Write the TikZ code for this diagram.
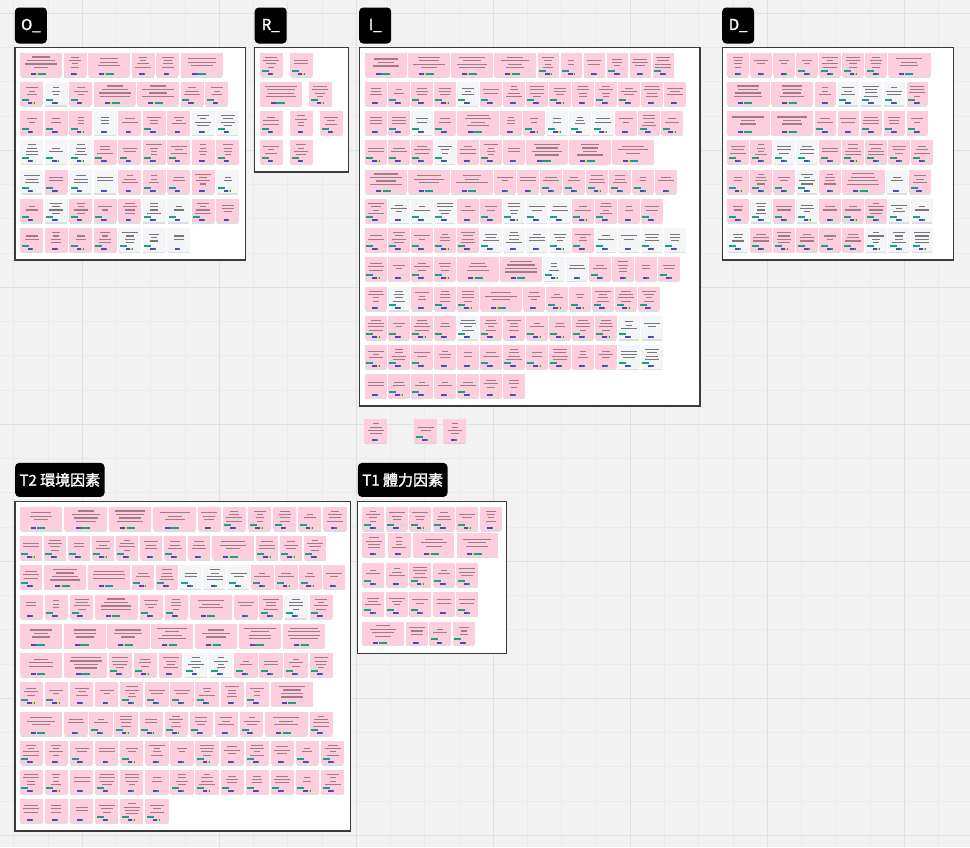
\documentclass[tikz,border=0pt]{standalone}
\usepackage{fontspec}
\newfontfamily\labelfont{Noto Sans CJK TC}[FakeBold=1.6]

\definecolor{boardbg}{RGB}{242,242,242}
\definecolor{gridminor}{RGB}{234,234,234}
\definecolor{gridmajor}{RGB}{224,224,224}
\definecolor{pinknote}{RGB}{254,206,222}
\definecolor{graynote}{RGB}{244,245,247}
\definecolor{pinkline}{RGB}{160,124,139}
\definecolor{grayline}{RGB}{118,118,124}
\definecolor{tagteal}{RGB}{20,163,135}
\definecolor{tagblue}{RGB}{80,72,182}
\definecolor{tagyellow}{RGB}{206,226,82}
\definecolor{framec}{RGB}{58,58,58}

% sticky note parameters: square width, wide width, gap, height
\newcommand\ntFrame[4]{\gdef\ntW{#1}\gdef\ntWW{#2}\gdef\ntGap{#3}\gdef\ntH{#4}}

% square sticky note with blurred text lines and tags
\newcommand\ntSquare[3]{%
  \begin{scope}[shift={(#1,#2)}]
    \fill[black,opacity=0.13] (0.8,\ntH-2) rectangle (\ntW-0.8,\ntH+1.4);
    \fill[#3note] (0,0) rectangle (\ntW,\ntH);
    \pgfmathrandominteger{\ntLines}{2}{4}%
    \foreach \k in {1,...,\ntLines}{%
      \pgfmathsetmacro{\ntHalf}{random(3,8)}%
      \pgfmathsetmacro{\ntLy}{9.5+3.3*(\k-(\ntLines+1)/2)}%
      \draw[#3line,line width=1.15pt] ({\ntW/2-\ntHalf},\ntLy) -- ({\ntW/2+\ntHalf},\ntLy);
    }%
    \pgfmathrandominteger{\ntTag}{0}{3}%
    \ifnum\ntTag>0 \fill[tagteal] (1.6,\ntH-6.6) rectangle (8.6,\ntH-4.6);\fi
    \fill[tagblue] (7.5,\ntH-3.5) rectangle (12,\ntH-1.5);
    \ifnum\ntTag=2
      \fill[tagyellow] (12,\ntH-3.5) rectangle (13.8,\ntH-1.5);
      \fill[tagteal] (13.8,\ntH-3.5) rectangle (14.8,\ntH-1.5);
    \else
      \fill[tagteal] (12,\ntH-3.5) rectangle (13.4,\ntH-1.5);
    \fi
  \end{scope}}

% wide sticky note
\newcommand\ntWide[3]{%
  \begin{scope}[shift={(#1,#2)}]
    \fill[black,opacity=0.13] (0.8,\ntH-2) rectangle (\ntWW-0.8,\ntH+1.4);
    \fill[#3note] (0,0) rectangle (\ntWW,\ntH);
    \pgfmathrandominteger{\ntLines}{3}{4}%
    \foreach \k in {1,...,\ntLines}{%
      \pgfmathsetmacro{\ntHalf}{random(7,16)}%
      \pgfmathsetmacro{\ntLy}{9.5+3.5*(\k-(\ntLines+1)/2)}%
      \draw[#3line,line width=1.15pt] ({\ntWW/2-\ntHalf},\ntLy) -- ({\ntWW/2+\ntHalf},\ntLy);
    }%
    \pgfmathrandominteger{\ntTag}{0}{1}%
    \fill[tagblue] ({\ntWW/2-10},\ntH-3.5) rectangle ({\ntWW/2-5},\ntH-1.5);
    \ifnum\ntTag=1
      \fill[tagyellow] ({\ntWW/2-5},\ntH-3.5) rectangle ({\ntWW/2-3},\ntH-1.5);
      \fill[tagteal] ({\ntWW/2-3},\ntH-3.5) rectangle ({\ntWW/2+5},\ntH-1.5);
    \else
      \fill[tagteal] ({\ntWW/2-4.4},\ntH-3.5) rectangle ({\ntWW/2+4},\ntH-1.5);
    \fi
  \end{scope}}

\newcommand\ntAdvance[1]{\pgfmathsetmacro\ntNext{\ntX+#1+\ntGap}\xdef\ntX{\ntNext}}
\newcommand\ntKindS{\ntSquare{\ntX}{\ntY}{pink}\ntAdvance{\ntW}}
\newcommand\ntKindG{\ntSquare{\ntX}{\ntY}{gray}\ntAdvance{\ntW}}
\newcommand\ntKindW{\ntWide{\ntX}{\ntY}{pink}\ntAdvance{\ntWW}}
\newcommand\ntKindV{\ntWide{\ntX}{\ntY}{gray}\ntAdvance{\ntWW}}
% a row of notes: start x, top y, list of kinds
\newcommand\noterow[3]{\xdef\ntX{#1}\def\ntY{#2}\foreach \c in {#3}{\csname ntKind\c\endcsname}}

\tikzset{
  board/.style={fill=white, draw=framec, line width=1.3pt},
  framelabel/.style={fill=black, text=white, rounded corners=4pt, anchor=north west,
    inner sep=0pt, font=\labelfont\fontsize{15}{18}\selectfont},
}

\begin{document}
\begin{tikzpicture}[x=1pt,y=-1pt]
\pgfmathsetseed{7}
\fill[boardbg] (0,0) rectangle (970,847);
\useasboundingbox (0,0) rectangle (970,847);

% background grid
\foreach \i in {0,...,28} \draw[gridminor,line width=0.8pt] ({13.8+34.25*\i},0) -- ({13.8+34.25*\i},847);
\foreach \i in {0,...,24} \draw[gridminor,line width=0.8pt] (0,{13.3+34.25*\i}) -- (970,{13.3+34.25*\i});
\foreach \i in {0,...,6} \draw[gridmajor,line width=0.9pt] ({82.3+137*\i},0) -- ({82.3+137*\i},847);
\foreach \i in {0,...,6} \draw[gridmajor,line width=0.9pt] (0,{13.3+137*\i}) -- (970,{13.3+137*\i});

% frames
\draw[board] (15,47.3) rectangle (245.7,260);
\draw[board] (254.5,47.3) rectangle (348.5,172);
\draw[board] (359.3,47.3) rectangle (700,406);
\draw[board] (722.7,47.3) rectangle (953.7,260);
\draw[board] (15,501.3) rectangle (350.5,831);
\draw[board] (357.7,501.3) rectangle (506.7,653.5);

% O_
\ntFrame{23}{42}{1.5}{23.5}
\noterow{20}{52.7}{W,S,W,S,S,W}
\noterow{20}{81.7}{S,G,S,W,W,S,S}
\noterow{20}{111}{S,S,S,G,S,S,S,G,G}
\noterow{20}{140.3}{G,G,G,S,S,S,S,S,S}
\noterow{20}{169.6}{G,S,G,G,S,S,S,S,G}
\noterow{20}{198.9}{S,G,S,S,S,G,G,S,S}
\noterow{20}{228.2}{S,S,S,S,G,G,G}

% R_
\ntFrame{22.7}{41.7}{7.3}{23.5}
\noterow{260}{52.7}{S,S}
\noterow{260}{82}{W,S}
\noterow{260}{111.3}{S,S,S}
\noterow{260}{140.3}{S,S}

% I_
\ntFrame{21.8}{42}{1.2}{23.5}
\noterow{364.7}{53}{W,W,W,W,S,S,S,S,S,S}
\noterow{364.7}{82}{S,S,S,S,G,S,S,S,S,S,S,S,S,S}
\noterow{364.7}{111}{S,S,G,S,W,S,S,G,G,G,S,S,S}
\noterow{364.7}{140.3}{S,S,S,G,S,S,S,W,W,W}
\noterow{364.7}{169.7}{W,W,W,S,S,S,S,S,S,S,S}
\noterow{364.7}{199}{S,G,G,G,S,S,G,G,G,S,S,S,S}
\noterow{364.7}{228}{S,S,S,S,S,G,G,G,G,S,G,G,G,G}
\noterow{364.7}{257.3}{S,S,S,S,W,W,G,G,S,S,S,S}
\noterow{364.7}{286.7}{S,G,S,S,S,W,S,S,S,S,S,S}
\noterow{364.7}{315.7}{S,S,S,S,G,S,S,S,S,S,S,G,G}
\noterow{364.7}{345}{S,S,S,S,S,S,S,S,S,S,S,G,G}
\noterow{364.7}{374.3}{S,S,S,S,S,S,S}

% loose notes below I_
\ntFrame{22.7}{41.7}{1.5}{23.5}
\noterow{364.3}{419.3}{S}
\noterow{414.3}{419.3}{S}
\noterow{443.3}{419.3}{S}

% D_
\ntFrame{21.7}{42.3}{1.3}{23.5}
\noterow{727.3}{52.7}{S,S,S,S,S,S,S,W}
\noterow{727.3}{81.7}{W,W,S,G,G,G,S}
\noterow{727.3}{111}{W,W,S,S,S,S,S}
\noterow{727.3}{140.3}{S,S,G,G,S,S,S,S,S}
\noterow{727.3}{169.6}{S,S,S,G,S,W,G,S}
\noterow{727.3}{198.9}{S,G,S,G,S,S,S,G,G}
\noterow{727.3}{228.2}{G,S,S,S,S,S,G,G,G}

% T2
\ntFrame{23.3}{42.7}{1.8}{23.5}
\noterow{19.7}{506.7}{W,W,W,W,S,S,S,S,S,S}
\ntFrame{22.7}{42.7}{1.3}{23.5}
\noterow{19.7}{535.7}{S,S,S,S,S,S,S,S,W,S,S,S}
\ntFrame{22.6}{42.7}{1.3}{23.5}
\noterow{19.7}{565.3}{S,W,W,S,S,G,G,G,S,S,S,S}
\ntFrame{23.3}{42.7}{1.8}{23.5}
\noterow{19.7}{594.7}{S,S,S,W,S,S,W,S,S,G,S}
\ntFrame{23.3}{42.3}{1.5}{23.5}
\noterow{19.7}{624}{W,W,W,W,W,W,W}
\ntFrame{23.3}{42.7}{1.8}{23.5}
\noterow{19.7}{653.3}{W,W,S,S,S,G,G,S,S,S,S}
\noterow{19.7}{682.3}{S,S,S,S,S,S,S,S,S,S,W}
\noterow{19.7}{711.7}{W,S,S,S,S,S,S,S,S,W,S}
\noterow{19.7}{740.7}{S,S,S,S,S,S,S,S,S,S,S,S,S}
\noterow{19.7}{770}{S,S,S,S,S,S,S,S,S,S,S,S,S}
\noterow{19.7}{799.3}{S,S,S,S,S,S}

% T1
\ntFrame{22}{41.7}{1.5}{23.5}
\noterow{362.3}{506.7}{S,S,S,S,S,S}
\ntFrame{23}{41.7}{2.2}{23.5}
\noterow{362.3}{533.3}{S,S,W,W}
\ntFrame{22}{41.7}{1.5}{23.5}
\noterow{362.3}{562.7}{S,S,S,S,S}
\noterow{362.3}{592}{S,S,S,S,S}
\noterow{362.3}{621.5}{W,S,S,S}

% frame labels
\node[framelabel, minimum width=32, minimum height=36] (labelO) at (14.7,7.3) {O\_};
\node[framelabel, minimum width=32, minimum height=36] (labelR) at (254.5,7.3) {R\_};
\node[framelabel, minimum width=32, minimum height=36] (labelI) at (359,7.3) {I\_};
\node[framelabel, minimum width=32, minimum height=36] (labelD) at (722,7.3) {D\_};
\node[framelabel, minimum width=89.3, minimum height=34] (labelT2) at (15,462.7) {T2 環境因素};
\node[framelabel, minimum width=89.6, minimum height=34] (labelT1) at (357.7,462.7) {T1 體力因素};
\end{tikzpicture}
\end{document}
